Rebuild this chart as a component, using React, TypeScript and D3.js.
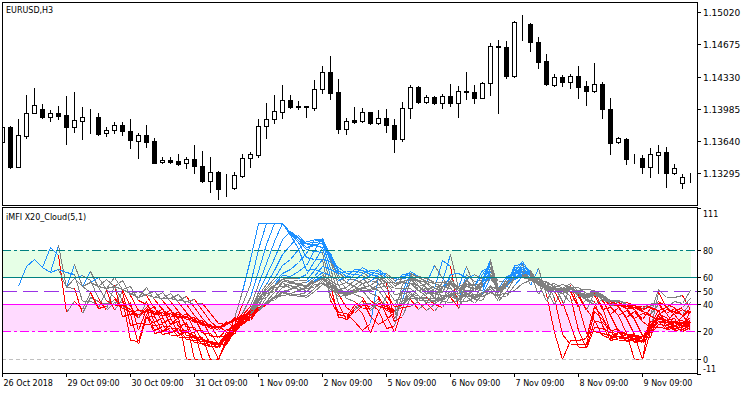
import React, { useEffect, useRef } from 'react';
import * as d3 from 'd3';

// EURUSD H3 candles, 26 Oct 2018 09:00 ... 9 Nov 2018
const opens = [
  1.13634, 1.13795, 1.13366, 1.13698, 1.13938, 1.13984, 1.13895, 1.13938, 1.13920, 1.13786,
  1.13859, 1.13895, 1.13895, 1.13724, 1.13754, 1.13810, 1.13749, 1.13641, 1.13702, 1.13641,
  1.13413, 1.13435, 1.13427, 1.13402, 1.13445, 1.13374, 1.13216, 1.13309, 1.13135, 1.13133,
  1.13270, 1.13459, 1.13491, 1.13797, 1.13874, 1.13955, 1.14081, 1.14011, 1.14016, 1.13992,
  1.14195, 1.14381, 1.14163, 1.13773, 1.13863, 1.13852, 1.13949, 1.13831, 1.13888, 1.13810,
  1.13666, 1.13992, 1.14217, 1.14062, 1.14110, 1.14052, 1.14124, 1.14052, 1.14177, 1.14166,
  1.14105, 1.14260, 1.14659, 1.14645, 1.14338, 1.14898, 1.14895, 1.14699, 1.14498, 1.14241,
  1.14324, 1.14277, 1.14338, 1.14231, 1.14180, 1.14252, 1.13984, 1.13627, 1.13660, 1.13454,
  1.13456, 1.13366, 1.13488, 1.13520, 1.13302, 1.13188, 1.13252,
];
const highs = [
  1.13802, 1.13802, 1.13877, 1.14134, 1.14206, 1.14035, 1.13974, 1.14016, 1.14124, 1.14170,
  1.14009, 1.13984, 1.13945, 1.13788, 1.13845, 1.13840, 1.13877, 1.13724, 1.13813, 1.13674,
  1.13467, 1.13467, 1.13502, 1.13473, 1.13599, 1.13534, 1.13473, 1.13320, 1.13288, 1.13312,
  1.13502, 1.13527, 1.13877, 1.14045, 1.14134, 1.14241, 1.14134, 1.14070, 1.14019, 1.14295,
  1.14445, 1.14552, 1.14306, 1.13885, 1.14006, 1.13992, 1.13955, 1.13974, 1.13984, 1.13877,
  1.14059, 1.14241, 1.14231, 1.14134, 1.14124, 1.14145, 1.14252, 1.14231, 1.14384, 1.14241,
  1.14277, 1.14695, 1.14723, 1.14713, 1.14930, 1.14991, 1.14902, 1.14759, 1.14573, 1.14359,
  1.14348, 1.14359, 1.14448, 1.14284, 1.14474, 1.14277, 1.14105, 1.13679, 1.13674, 1.13502,
  1.13491, 1.13570, 1.13599, 1.13580, 1.13395, 1.13288, 1.13302,
];
const lows = [
  1.13631, 1.13352, 1.13363, 1.13677, 1.13936, 1.13885, 1.13859, 1.13874, 1.13604, 1.13741,
  1.13663, 1.13730, 1.13706, 1.13695, 1.13722, 1.13700, 1.13570, 1.13454, 1.13580, 1.13402,
  1.13402, 1.13402, 1.13384, 1.13352, 1.13302, 1.13205, 1.13098, 1.13017, 1.13052, 1.13124,
  1.13256, 1.13366, 1.13467, 1.13677, 1.13837, 1.13891, 1.13992, 1.13984, 1.13902, 1.13974,
  1.14159, 1.14091, 1.13730, 1.13716, 1.13837, 1.13845, 1.13824, 1.13824, 1.13741, 1.13527,
  1.13645, 1.13891, 1.14052, 1.14052, 1.14038, 1.13992, 1.14016, 1.13902, 1.14088, 1.14052,
  1.14099, 1.14134, 1.13938, 1.14313, 1.14324, 1.14723, 1.14609, 1.14427, 1.14241, 1.14231,
  1.14231, 1.14212, 1.14105, 1.14027, 1.14170, 1.13885, 1.13502, 1.13623, 1.13395, 1.13402,
  1.13295, 1.13259, 1.13302, 1.13152, 1.13288, 1.13135, 1.13205,
];
const closes = [
  1.13788, 1.13366, 1.13706, 1.13938, 1.14024, 1.13895, 1.13938, 1.13912, 1.13786, 1.13866,
  1.13895, 1.13893, 1.13716, 1.13759, 1.13810, 1.13743, 1.13657, 1.13702, 1.13634, 1.13409,
  1.13438, 1.13419, 1.13398, 1.13445, 1.13368, 1.13216, 1.13306, 1.13127, 1.13138, 1.13277,
  1.13456, 1.13499, 1.13802, 1.13877, 1.13963, 1.14081, 1.14009, 1.14009, 1.14002, 1.14195,
  1.14381, 1.14159, 1.13773, 1.13852, 1.13845, 1.13949, 1.13831, 1.13888, 1.13810, 1.13666,
  1.13992, 1.14217, 1.14062, 1.14110, 1.14052, 1.14124, 1.14052, 1.14177, 1.14163, 1.14105,
  1.14263, 1.14659, 1.14652, 1.14338, 1.14913, 1.14892, 1.14699, 1.14491, 1.14252, 1.14324,
  1.14277, 1.14338, 1.14223, 1.14180, 1.14249, 1.13981, 1.13623, 1.13674, 1.13452, 1.13456,
  1.13366, 1.13499, 1.13520, 1.13302, 1.13349, 1.13252, 1.13256,
];

const priceTicks = [1.1502, 1.14675, 1.1433, 1.13985, 1.1364, 1.13295];
const mfiTicks = [111, 80, 60, 50, 40, 20, 0, -11];
// one label every 8 bars (one trading day)
const timeLabels = [
  '26 Oct 2018', '29 Oct 09:00', '30 Oct 09:00', '31 Oct 09:00', '1 Nov 09:00', '2 Nov 09:00',
  '5 Nov 09:00', '6 Nov 09:00', '7 Nov 09:00', '8 Nov 09:00', '9 Nov 09:00',
];
// X20 cloud: MFI periods 5..24
const mfiPeriods = [5, 6, 7, 8, 9, 10, 11, 12, 13, 14, 15, 16, 17, 18, 19, 20, 21, 22, 23, 24];

const FONT = "'DejaVu Sans', sans-serif";

const App: React.FC = () => {
  const svgRef = useRef<SVGSVGElement>(null);

  useEffect(() => {
    if (!svgRef.current) return;
    const svg = d3.select(svgRef.current);
    svg.selectAll('*').remove();

    const n = opens.length;
    const x = d3.scaleLinear().domain([0, n - 1]).range([2, 690]);
    const yP = d3.scaleLinear().domain([1.13295, 1.1502]).range([173.3, 12.3]);
    const yI = d3.scaleLinear().domain([-11, 111]).range([373.5, 208]);
    const px = (v: number) => Math.round(v) + 0.5;

    const defs = svg.append('defs');
    defs.append('clipPath').attr('id', 'clipTop')
      .append('rect').attr('x', 3).attr('y', 3).attr('width', 694).attr('height', 202);
    defs.append('clipPath').attr('id', 'clipBot')
      .append('rect').attr('x', 3).attr('y', 208).attr('width', 694).attr('height', 165);

    svg.append('rect').attr('width', 750).attr('height', 394).attr('fill', '#fff');

    // ---- price panel
    const candles = opens.map((o, i) => ({ i, o, h: highs[i], l: lows[i], c: closes[i] }));
    const gTop = svg.append('g').attr('clip-path', 'url(#clipTop)').attr('shape-rendering', 'crispEdges');

    gTop.selectAll('line.wick').data(candles).join('line')
      .attr('class', 'wick')
      .attr('x1', d => px(x(d.i))).attr('x2', d => px(x(d.i)))
      .attr('y1', d => Math.round(yP(d.h))).attr('y2', d => Math.round(yP(d.l)) + 1)
      .attr('stroke', '#000');

    gTop.selectAll('rect.body').data(candles).join('rect')
      .attr('class', 'body')
      .attr('x', d => Math.round(x(d.i)) - 1.5)
      .attr('width', 4)
      .attr('y', d => Math.round(yP(Math.max(d.o, d.c))) + 0.5)
      .attr('height', d => Math.round(yP(Math.min(d.o, d.c))) - Math.round(yP(Math.max(d.o, d.c))))
      .attr('fill', d => (d.c > d.o ? '#fff' : '#000'))
      .attr('stroke', '#000');

    svg.append('text').attr('x', 6).attr('y', 13)
      .attr('font-family', FONT).attr('font-size', 8).text('EURUSD,H3');

    // ---- MFI cloud panel
    const gBot = svg.append('g').attr('clip-path', 'url(#clipBot)');

    gBot.append('rect').attr('x', 2).attr('width', x(n - 1) - 2 + 1)
      .attr('y', yI(80)).attr('height', yI(60) - yI(80)).attr('fill', '#E6FFE6');
    gBot.append('rect').attr('x', 2).attr('width', x(n - 1) - 2 + 1)
      .attr('y', yI(40)).attr('height', yI(20) - yI(40)).attr('fill', '#FFDAFF');

    const tp = closes.map((c, i) => (highs[i] + lows[i] + c) / 3);
    // bar range stands in for tick volume
    const vol = highs.map((h, i) => h - lows[i]);
    const mfi = (p: number) => tp.map((_, i) => {
      if (i < 1) return NaN;
      let pos = 0;
      let neg = 0;
      for (let j = Math.max(1, i - p + 1); j <= i; j++) {
        const mf = tp[j] * vol[j];
        if (tp[j] > tp[j - 1]) pos += mf;
        else if (tp[j] < tp[j - 1]) neg += mf;
      }
      return neg === 0 ? 100 : 100 - 100 / (1 + pos / neg);
    });

    // first bars have too little history, lines start at the third bar
    const segs: { x0: number; y0: number; x1: number; y1: number; v: number }[] = [];
    mfiPeriods.forEach(p => {
      const v = mfi(p);
      for (let i = 3; i < n; i++) {
        segs.push({ x0: x(i - 1), y0: yI(v[i - 1]), x1: x(i), y1: yI(v[i]), v: v[i] });
      }
    });
    const segColor = (v: number) => (v > 60 ? '#1E90FF' : v < 40 ? '#FF0000' : '#808080');

    gBot.append('g').attr('shape-rendering', 'crispEdges')
      .selectAll('line').data(segs).join('line')
      .attr('x1', d => px(d.x0)).attr('y1', d => px(d.y0))
      .attr('x2', d => px(d.x1)).attr('y2', d => px(d.y1))
      .attr('stroke', d => segColor(d.v));

    const levels = [
      { v: 80, color: '#008080', dash: '9,3,3,3' },
      { v: 60, color: '#008080', dash: null },
      { v: 50, color: '#9932E6', dash: '15,6' },
      { v: 40, color: '#FF00FF', dash: null },
      { v: 20, color: '#FF00FF', dash: '9,3,3,3' },
      { v: 0, color: '#C0C0C0', dash: '4,3' },
    ];
    gBot.append('g').attr('shape-rendering', 'crispEdges')
      .selectAll('line').data(levels).join('line')
      .attr('x1', 2).attr('x2', 697)
      .attr('y1', d => px(yI(d.v))).attr('y2', d => px(yI(d.v)))
      .attr('stroke', d => d.color)
      .attr('stroke-dasharray', d => d.dash);

    svg.append('text').attr('x', 6).attr('y', 220)
      .attr('font-family', FONT).attr('font-size', 8).text('iMFI X20_Cloud(5,1)');

    // ---- frames
    const gFrame = svg.append('g').attr('shape-rendering', 'crispEdges').attr('fill', 'none').attr('stroke', '#000');
    gFrame.append('rect').attr('x', 2.5).attr('y', 2.5).attr('width', 695).attr('height', 203);
    gFrame.append('rect').attr('x', 2.5).attr('y', 207.5).attr('width', 695).attr('height', 166);

    // ---- price axis
    const gAx = svg.append('g').attr('font-family', FONT).attr('font-size', 8);
    priceTicks.forEach(t => {
      const yy = px(yP(t));
      gAx.append('line').attr('x1', 697).attr('x2', 701).attr('y1', yy).attr('y2', yy)
        .attr('stroke', '#000').attr('shape-rendering', 'crispEdges');
      gAx.append('text').attr('x', 703).attr('y', yy + 3.5).attr('font-size', 9).text(t.toFixed(5));
    });

    mfiTicks.forEach(t => {
      const yy = px(yI(t));
      gAx.append('line').attr('x1', 697).attr('x2', 701).attr('y1', yy).attr('y2', yy)
        .attr('stroke', '#000').attr('shape-rendering', 'crispEdges');
      const ty = t === 111 ? yy + 8 : t === -11 ? yy - 3 : yy + 3;
      gAx.append('text').attr('x', 703).attr('y', ty).text(String(t));
    });

    // ---- time axis
    timeLabels.forEach((lab, j) => {
      const xx = px(x(j * 8));
      gAx.append('line').attr('x1', xx).attr('x2', xx).attr('y1', 373).attr('y2', 377)
        .attr('stroke', '#000').attr('shape-rendering', 'crispEdges');
      gAx.append('text').attr('x', xx + 1).attr('y', 386).text(lab);
    });
  }, []);

  return (
    <svg ref={svgRef} width={750} height={394}
      style={{ position: 'absolute', left: 0, top: 0, display: 'block' }} />
  );
};

export default App;
